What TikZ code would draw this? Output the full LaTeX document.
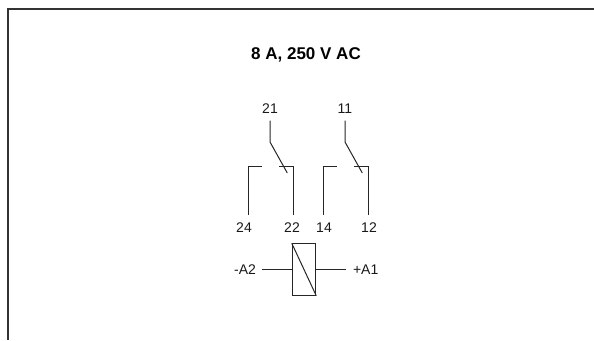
\documentclass[tikz,border=0pt]{standalone}
\usepackage{fontspec}
\setmainfont{Liberation Sans}
\usepackage{tikz}
\usetikzlibrary{positioning}
\tikzstyle{wire} = [line width=1pt,draw=black!85]
\tikzstyle{frameline} = [line width=1.5pt,draw=black!80]
\tikzstyle{lbl} = [inner ysep=7pt,inner xsep=6pt,font=\fontsize{14}{16}\selectfont,text=black!90]
\begin{document}
\begin{tikzpicture}[x=1pt,y=1pt]
\useasboundingbox (0,0) rectangle (594,-340);

\coordinate (fb) at (8,-340);
\coordinate (fc) at (8,-9);
\coordinate (fr) at (594,-9);
\draw [frameline] (fb) -- (fc) -- (fr);

\node [font=\bfseries\fontsize{17}{19}\selectfont] (title) at (306,-54.5) {8 A, 250 V AC};

\node [lbl] (n21) at (270,-108.5) {21};
\coordinate (k21) at (270,-142);
\coordinate (t21) at (287.3,-173);
\coordinate (s24) at (248,-215);
\coordinate (c24) at (248,-166);
\coordinate (e24) at (262,-166);
\coordinate (s22) at (293,-215);
\coordinate (c22) at (293,-166);
\coordinate (e22) at (279,-166);
\node [lbl] (n24) at (244,-227.5) {24};
\node [lbl] (n22) at (292,-227.5) {22};

\node [lbl] (n11) at (345,-108.5) {11};
\coordinate (k11) at (345,-142);
\coordinate (t11) at (362.3,-173);
\coordinate (s14) at (323,-215);
\coordinate (c14) at (323,-166);
\coordinate (e14) at (337,-166);
\coordinate (s12) at (368,-215);
\coordinate (c12) at (368,-166);
\coordinate (e12) at (354,-166);
\node [lbl] (n14) at (324,-227.5) {14};
\node [lbl] (n12) at (369,-227.5) {12};

\draw [wire] (n21.south) -- (k21) -- (t21);
\draw [wire] (s24) -- (c24) -- (e24);
\draw [wire] (s22) -- (c22) -- (e22);

\draw [wire] (n11.south) -- (k11) -- (t11);
\draw [wire] (s14) -- (c14) -- (e14);
\draw [wire] (s12) -- (c12) -- (e12);

\node [rectangle, wire, minimum width=23.5pt, minimum height=51.5pt, inner sep=0pt] (coil) at (304,-269.5) {};
\node [lbl] (a2) at (245,-269.5) {-A2};
\node [lbl, inner xsep=6.7pt] (a1) at (365.7,-269.5) {+A1};

\draw [wire] (coil.north west) -- (coil.south east);
\draw [wire] (a2.east |- coil.west) -- (coil.west);
\draw [wire] (coil.east) -- (a1.west |- coil.east);
\end{tikzpicture}
\end{document}
